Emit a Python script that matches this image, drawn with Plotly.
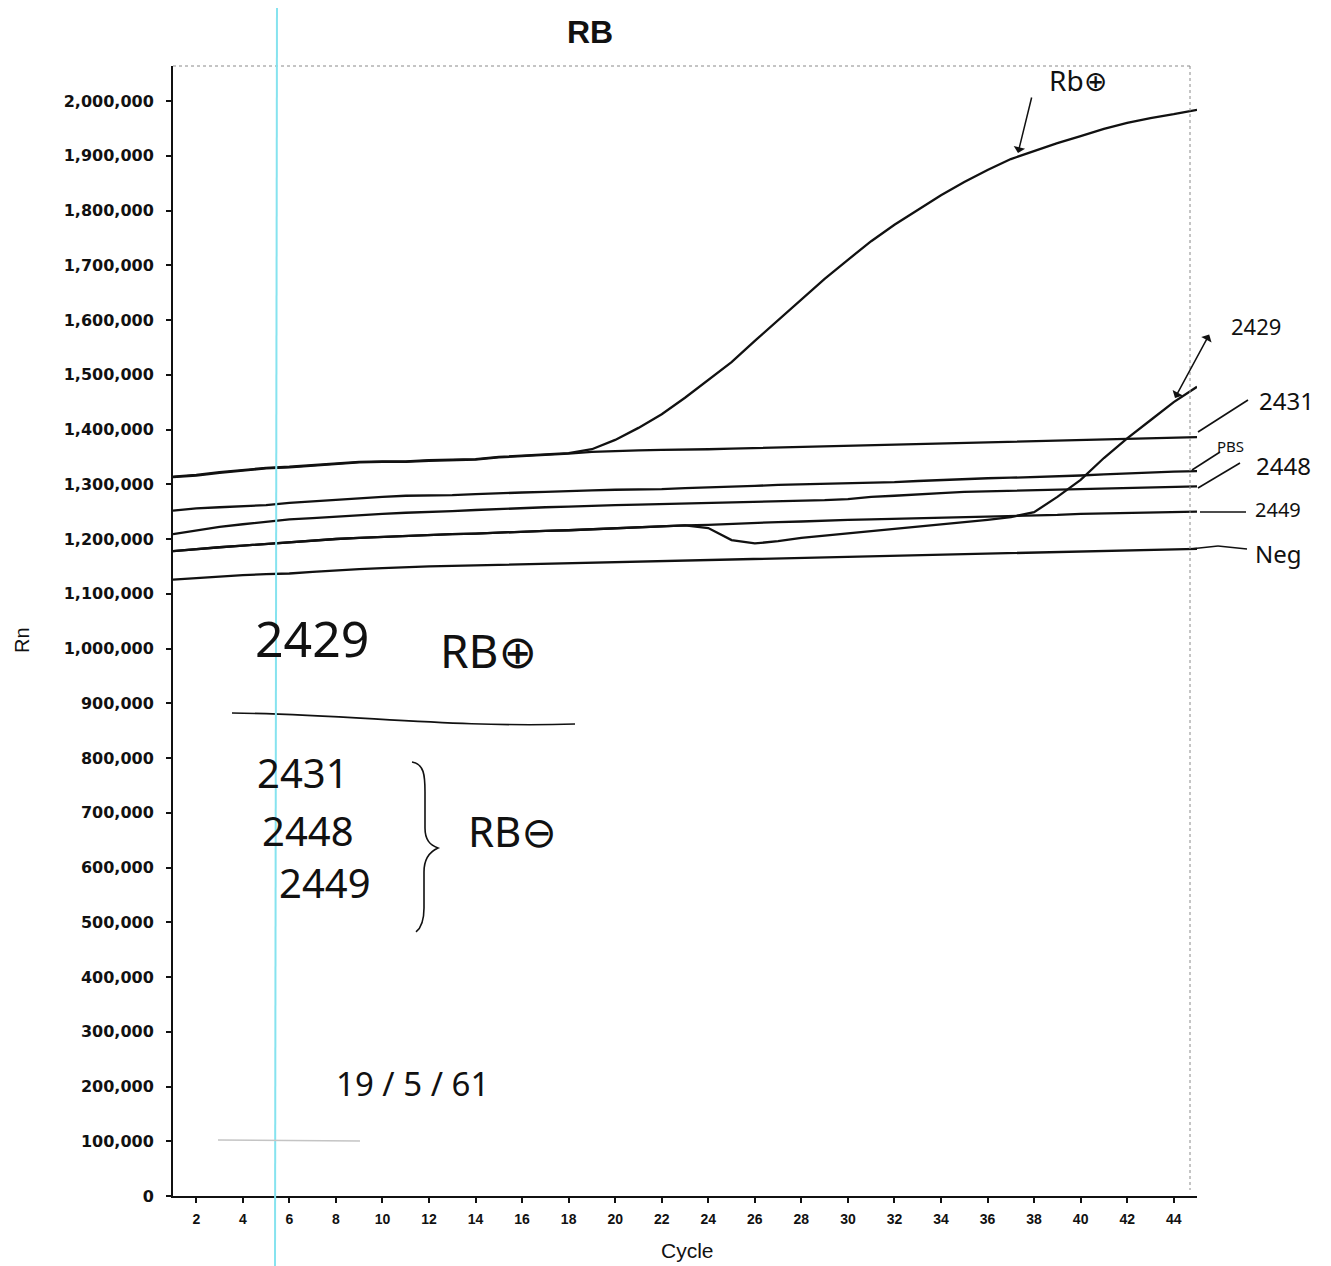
import plotly.graph_objects as go

cycles = list(range(1, 46))

rb_pos = [1314000, 1317000, 1322000, 1326000, 1330000, 1332000, 1335000, 1338000, 1341000, 1342000,
          1342000, 1344000, 1345000, 1346000, 1350000, 1352000, 1354000, 1357000, 1364000, 1381000,
          1403000, 1428000, 1458000, 1490000, 1523000, 1562000, 1600000, 1638000, 1675000, 1710000,
          1744000, 1774000, 1801000, 1828000, 1852000, 1874000, 1894000, 1909000, 1923000, 1936000,
          1949000, 1960000, 1969000, 1976000, 1984000]

s2431 = [1313000, 1316000, 1321000, 1325000, 1329000, 1331000, 1334000, 1337000, 1340000, 1341000,
         1341000, 1343000, 1344000, 1345000, 1349000, 1351000, 1353000, 1356000, 1359000, 1361000,
         1362000, 1363000, 1363000, 1364000, 1365000, 1366000, 1367000, 1368000, 1369000, 1370000,
         1371000, 1372000, 1373000, 1374000, 1375000, 1376000, 1377000, 1379000, 1380000, 1381000,
         1382000, 1383000, 1384000, 1385000, 1386000]

pbs = [1252000, 1256000, 1258000, 1260000, 1262000, 1266000, 1269000, 1272000, 1275000, 1277000,
       1279000, 1279000, 1280000, 1282000, 1284000, 1285000, 1286000, 1288000, 1289000, 1290000,
       1290000, 1291000, 1293000, 1294000, 1295000, 1297000, 1299000, 1300000, 1300000, 1302000,
       1303000, 1304000, 1306000, 1308000, 1310000, 1311000, 1312000, 1313000, 1315000, 1316000,
       1318000, 1320000, 1321000, 1323000, 1324000]

s2448 = [1209000, 1216000, 1222000, 1227000, 1232000, 1236000, 1238000, 1241000, 1244000, 1246000,
         1248000, 1249000, 1251000, 1253000, 1255000, 1257000, 1258000, 1259000, 1261000, 1262000,
         1263000, 1264000, 1265000, 1266000, 1267000, 1268000, 1268000, 1269000, 1271000, 1273000,
         1277000, 1279000, 1282000, 1284000, 1286000, 1287000, 1288000, 1289000, 1290000, 1291000,
         1292000, 1293000, 1294000, 1295000, 1296000]

s2449 = [1178000, 1182000, 1185000, 1188000, 1191000, 1195000, 1197000, 1200000, 1202000, 1204000,
         1205000, 1207000, 1209000, 1210000, 1212000, 1214000, 1215000, 1216000, 1218000, 1220000,
         1222000, 1223000, 1225000, 1226000, 1228000, 1229000, 1231000, 1232000, 1234000, 1235000,
         1236000, 1237000, 1237000, 1238000, 1239000, 1240000, 1241000, 1242000, 1244000, 1246000,
         1247000, 1247000, 1248000, 1249000, 1250000]

s2429 = [1178000, 1182000, 1185000, 1188000, 1191000, 1195000, 1197000, 1200000, 1202000, 1204000,
         1205000, 1207000, 1209000, 1210000, 1212000, 1214000, 1215000, 1216000, 1218000, 1220000,
         1222000, 1223000, 1225000, 1220000, 1198000, 1192000, 1196000, 1202000, 1206000, 1211000,
         1215000, 1218000, 1222000, 1226000, 1230000, 1235000, 1240000, 1249000, 1277000, 1308000,
         1348000, 1384000, 1417000, 1450000, 1478000]

neg = [1126000, 1129000, 1131000, 1134000, 1136000, 1137000, 1140000, 1143000, 1145000, 1147000,
       1149000, 1150000, 1151000, 1152000, 1153000, 1154000, 1155000, 1156000, 1157000, 1158000,
       1159000, 1160000, 1161000, 1162000, 1163000, 1164000, 1165000, 1166000, 1167000, 1168000,
       1169000, 1170000, 1171000, 1172000, 1173000, 1174000, 1174000, 1175000, 1176000, 1177000,
       1178000, 1179000, 1180000, 1181000, 1182000]

series = [("Rb+", rb_pos), ("2431", s2431), ("PBS", pbs), ("2448", s2448),
          ("2449", s2449), ("2429", s2429), ("Neg", neg)]

OFF = 8  # page body margin
W, H = 1331 - OFF, 1266 - OFF
L, R, T, B = 173, 1197, 66, 1196  # plot area in page pixels


def px(x):
    return (x - L) / (R - L)


def py(y):
    return (B - y) / (B - T)


fig = go.Figure()
for name, vals in series:
    fig.add_trace(go.Scatter(x=cycles, y=vals, mode="lines", name=name,
                             line=dict(color="#111111", width=2.3),
                             showlegend=False, hoverinfo="x+y+name"))

hand = dict(family="Noto Sans, DejaVu Sans", color="#111111")
ann = []


def text(t, x, y, size, anchor="center"):
    ann.append(dict(text=t, x=px(x), y=py(y), xref="paper", yref="paper",
                    showarrow=False, xanchor=anchor, yanchor="middle",
                    font=dict(size=size, **hand)))


def arrow(hx, hy, tx, ty, side="end"):
    ann.append(dict(text="", x=px(hx), y=py(hy), xref="paper", yref="paper",
                    ax=tx - hx, ay=ty - hy, showarrow=True, arrowhead=1,
                    arrowsize=1.3, arrowwidth=1.5, arrowcolor="#111111",
                    arrowside=side))


# right side labels
text("Rb\u2295", 1078, 80, 28)
arrow(1018, 153, 1032, 96)
text("2429", 1256, 326, 22)
arrow(1175, 398, 1210, 333, side="end+start")
text("2431", 1286, 400, 24)
text("PBS", 1230, 446, 15)
text("2448", 1283, 465, 24)
text("2449", 1278, 510, 20)
text("Neg", 1278, 553, 24)

# left handwritten notes
text("2429", 312, 638, 50)
text("RB\u2295", 488, 650, 46)
text("2431", 303, 772, 40)
text("2448", 308, 830, 40)
text("2449", 325, 882, 40)
text("RB\u2296", 512, 830, 42)
text("19 / 5 / 61", 412, 1083, 33)

# axis titles
ann.append(dict(text="Rn", x=px(22), y=py(640), xref="paper", yref="paper",
                showarrow=False, textangle=-90, xanchor="center", yanchor="middle",
                font=dict(family="Liberation Sans, Arial", size=20, color="#111111")))
ann.append(dict(text="Cycle", x=px(687), y=py(1250), xref="paper", yref="paper",
                showarrow=False, xanchor="center", yanchor="middle",
                font=dict(family="Liberation Sans, Arial", size=21, color="#111111")))


def path(points_cmd):
    out = []
    for item in points_cmd:
        if isinstance(item, str):
            out.append(item)
        else:
            out.append(f"{px(item[0]):.5f},{py(item[1]):.5f}")
    return " ".join(out)


shapes = []
ink = dict(color="#111111", width=1.6)


def seg(x0, y0, x1, y1, line=ink):
    shapes.append(dict(type="line", xref="paper", yref="paper",
                       x0=px(x0), y0=py(y0), x1=px(x1), y1=py(y1), line=line))


# leader lines
seg(1198, 432, 1248, 400)
seg(1192, 470, 1220, 452)
seg(1198, 488, 1240, 463)
seg(1200, 512, 1246, 512)
seg(1190, 549, 1218, 546)
seg(1218, 546, 1247, 549)

# curved rule under "2429 RB+"
shapes.append(dict(type="path", xref="paper", yref="paper",
                   path=path(["M", (232, 713), "C", (350, 714), (450, 728), (575, 724)]),
                   line=ink))
# brace
shapes.append(dict(type="path", xref="paper", yref="paper",
                   path=path(["M", (412, 762), "C", (424, 764), (425, 775), (425, 792),
                              "L", (425, 828), "C", (425, 840), (430, 845), (438, 848),
                              "C", (429, 852), (424, 860), (424, 872),
                              "L", (424, 908), "C", (424, 922), (421, 928), (416, 932)]),
                   line=ink))

# plot frame (dotted top and right)
frame = dict(color="#8a8a8a", width=1, dash="dot")
seg(173, 66, 1190, 66, frame)
seg(1190, 66, 1190, 1190, frame)

# scan artifacts: cyan marker line and faint gray stroke
shapes.append(dict(type="line", xref="paper", yref="paper",
                   x0=px(277), y0=py(0), x1=px(275), y1=py(1266),
                   line=dict(color="#86e3ef", width=2)))
seg(218, 1140, 360, 1141, dict(color="#c4c4c4", width=1.5))

fig.update_layout(
    width=W, height=H,
    margin=dict(l=L - OFF, r=W - (R - OFF), t=T - OFF, b=H - (B - OFF)),
    paper_bgcolor="white", plot_bgcolor="white",
    title=dict(text="<b>RB</b>", x=(590 - OFF) / W, xanchor="center",
               y=1 - (32 - OFF) / H, yanchor="middle",
               font=dict(family="Liberation Sans, Arial", size=32, color="#111111")),
    annotations=ann, shapes=shapes,
    xaxis=dict(range=[1, 45], tick0=0, dtick=2, showgrid=False, zeroline=False,
               showline=True, linecolor="#111111", linewidth=2,
               ticks="outside", ticklen=5, tickwidth=1.5, tickcolor="#111111",
               ticklabelstandoff=4,
               tickfont=dict(family="Liberation Sans Narrow, Liberation Sans, Arial",
                             size=14, color="#111111", weight="bold")),
    yaxis=dict(range=[0, 2064000], dtick=100000, tickformat=",", showgrid=False,
               zeroline=False, showline=True, linecolor="#111111", linewidth=2,
               ticks="outside", ticklen=5, tickwidth=1.5, tickcolor="#111111",
               ticklabelstandoff=9,
               tickfont=dict(family="DejaVu Sans, Liberation Sans", size=16,
                             color="#111111", weight="bold")),
)

fig.write_html("out.html")
